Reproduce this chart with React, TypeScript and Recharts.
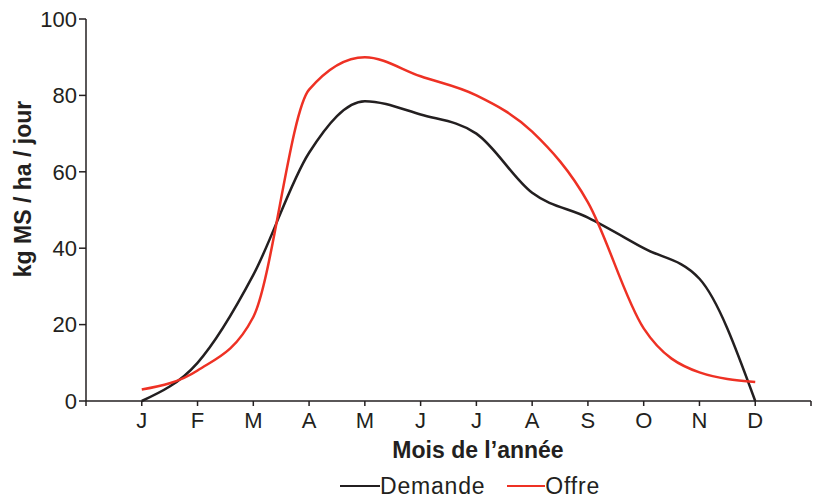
import { CartesianGrid, Line, LineChart, XAxis, YAxis } from 'recharts';

const months = ['J', 'F', 'M', 'A', 'M', 'J', 'J', 'A', 'S', 'O', 'N', 'D'];
const demande = [0, 10, 33, 65, 78.5, 75, 70, 54.5, 48, 40, 32, 0];
const offre = [3, 8, 22, 81.5, 90, 85, 80, 70.5, 52, 19, 7.5, 5];
const yTicks = [0, 20, 40, 60, 80, 100];
const xTicks = [0, 1, 2, 3, 4, 5, 6, 7, 8, 9, 10, 11, 12, 13];

const data = months.map((m, i) => ({
  idx: i + 1,
  month: m,
  demande: demande[i],
  offre: offre[i],
}));

const INK = '#231f20';
const RED = '#ee3124';
const FONT = '"Liberation Sans", Arial, Helvetica, sans-serif';

const tickStyle = { fill: INK, fontSize: 22, fontFamily: FONT };

export default function App() {
  return (
    <div style={{ position: 'absolute', left: 0, top: 0, width: 816, height: 498, background: '#fff' }}>
      <LineChart
        width={816}
        height={498}
        data={data}
        margin={{ top: 19, right: 5, bottom: 0, left: 0 }}
      >
        <CartesianGrid stroke="none" />
        <XAxis
          type="number"
          dataKey="idx"
          domain={[0, 13]}
          ticks={xTicks}
          interval={0}
          tickFormatter={(v: number) => months[v - 1] ?? ''}
          height={97}
          stroke={INK}
          strokeWidth={1.5}
          tickSize={5}
          tickMargin={6}
          tick={tickStyle}
          label={{
            content: () => (
              <text
                x={478}
                y={458}
                textAnchor="middle"
                fill={INK}
                fontSize={23}
                fontWeight="bold"
                fontFamily={FONT}
              >
                Mois de l’année
              </text>
            ),
          }}
        />
        <YAxis
          domain={[0, 100]}
          ticks={yTicks}
          width={86}
          stroke={INK}
          strokeWidth={1.5}
          tickSize={7}
          tickMargin={2}
          tick={tickStyle}
          label={{
            content: () => (
              <text
                x={31}
                y={189}
                transform="rotate(-90 31 189)"
                textAnchor="middle"
                fill={INK}
                fontSize={23}
                fontWeight="bold"
                fontFamily={FONT}
              >
                kg MS / ha / jour
              </text>
            ),
          }}
        />
        <Line
          type="monotone"
          dataKey="demande"
          stroke={INK}
          strokeWidth={2.5}
          dot={false}
          activeDot={false}
          isAnimationActive={false}
        />
        <Line
          type="monotone"
          dataKey="offre"
          stroke={RED}
          strokeWidth={2.5}
          dot={false}
          activeDot={false}
          isAnimationActive={false}
        />
      </LineChart>
      <div
        style={{
          position: 'absolute',
          left: 340,
          top: 472,
          display: 'flex',
          alignItems: 'center',
          fontFamily: FONT,
          fontSize: 23,
          letterSpacing: 0.8,
          color: INK,
          lineHeight: '28px',
        }}
      >
        <span style={{ display: 'inline-block', width: 40, height: 2.5, background: INK }} />
        <span style={{ marginRight: 22 }}>Demande</span>
        <span style={{ display: 'inline-block', width: 38, height: 2.5, background: RED }} />
        <span>Offre</span>
      </div>
    </div>
  );
}
